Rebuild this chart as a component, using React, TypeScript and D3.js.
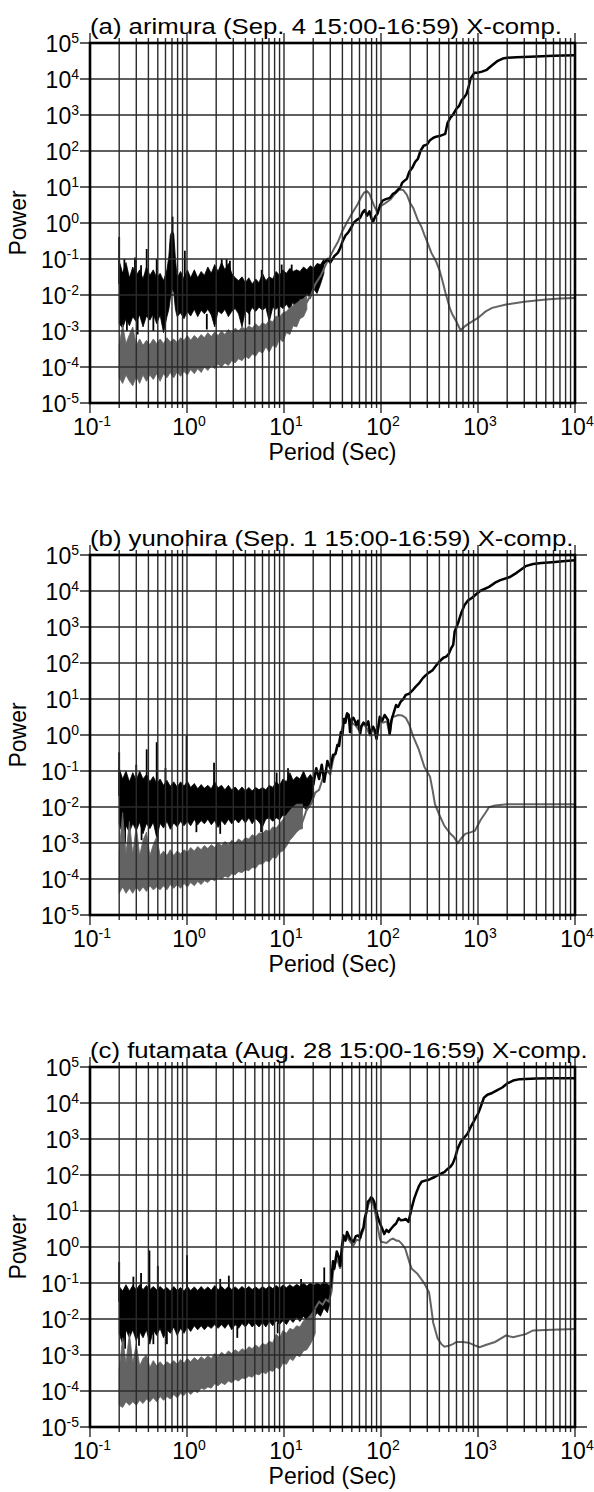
import React, { useRef, useEffect } from 'react'
import * as d3 from 'd3'

type Band = [number, number, number] // period, low, high
type Pt = [number, number] // period, power

// ---------- (a) arimura ----------
const aBlackBand: Band[] = [
    [0.2, 1.6e-3, 0.09], [0.217, 1.2e-3, 0.04], [0.235, 2.2e-3, 0.08], [0.255, 1.4e-3, 0.03],
    [0.276, 2.5e-3, 0.06], [0.3, 1.8e-3, 0.035], [0.325, 2.8e-3, 0.05], [0.352, 1.3e-3, 0.028],
    [0.382, 2.6e-3, 0.06], [0.414, 2e-3, 0.035], [0.449, 3e-3, 0.05], [0.487, 1.6e-3, 0.03],
    [0.528, 2.8e-3, 0.04], [0.573, 9e-4, 0.025], [0.621, 2.5e-3, 0.05], [0.65, 4e-3, 0.12],
    [0.673, 8e-3, 0.45], [0.7, 0.015, 0.6], [0.73, 0.012, 0.5], [0.76, 4e-3, 0.1],
    [0.792, 2.5e-3, 0.03], [0.858, 3.2e-3, 0.045], [0.931, 2.2e-3, 0.028], [1.01, 3.5e-3, 0.05],
    [1.09, 2.6e-3, 0.03], [1.19, 4e-3, 0.05], [1.29, 2.5e-3, 0.03], [1.4, 3.8e-3, 0.045],
    [1.51, 3e-3, 0.035], [1.64, 4e-3, 0.06], [1.78, 2.8e-3, 0.04], [1.93, 1.3e-3, 0.07],
    [2.09, 3.6e-3, 0.045], [2.27, 3e-3, 0.08], [2.46, 4e-3, 0.05], [2.67, 2.5e-3, 0.075],
    [2.89, 3.5e-3, 0.04], [3.14, 4.2e-3, 0.03], [3.4, 3e-3, 0.025], [3.69, 1.3e-3, 0.032],
    [4.0, 3.8e-3, 0.022], [4.34, 3e-3, 0.03], [4.7, 4.5e-3, 0.02], [5.1, 3.5e-3, 0.028],
    [5.53, 4.6e-3, 0.022], [6.0, 3.8e-3, 0.04], [6.5, 4.5e-3, 0.025], [7.05, 1.8e-3, 0.032],
    [7.65, 4.5e-3, 0.028], [8.3, 4e-3, 0.045], [9.0, 5e-3, 0.035], [9.75, 4.2e-3, 0.05],
    [10.6, 5.5e-3, 0.04], [11.5, 4e-3, 0.055], [12.4, 6.5e-3, 0.045], [13.5, 3e-3, 0.05],
    [14.6, 8e-3, 0.045], [15.9, 6e-3, 0.06], [17.2, 0.011, 0.05], [18.7, 8e-3, 0.065],
    [20.2, 0.015, 0.055], [21.9, 0.011, 0.075], [23.8, 0.02, 0.07], [25.8, 0.04, 0.1],
]
const aBlackSpikes: Band[] = [
    [0.2, 0.02, 0.41], [0.226, 0.02, 0.1], [0.291, 0.02, 0.11], [0.336, 0.02, 0.067],
    [0.384, 0.02, 0.19], [0.487, 0.02, 0.1], [0.71, 0.2, 1.5], [0.95, 0.02, 0.17],
    [2.28, 0.02, 0.1], [2.56, 0.02, 0.1], [2.77, 0.02, 0.09], [5.89, 0.02, 0.05],
    [9.46, 0.02, 0.07], [12, 0.02, 0.07], [0.24, 1e-3, 3e-3], [0.31, 8e-4, 3e-3],
    [0.45, 1e-3, 3e-3], [1.6, 1.1e-3, 3e-3], [4.4, 1.5e-3, 4e-3], [8.8, 2e-3, 5e-3],
]
const aBlackLine: Pt[] = [
    [25, 0.07], [28, 0.1], [30, 0.08], [33, 0.12], [36, 0.15], [38, 0.2], [40, 0.3], [43, 0.45],
    [46, 0.55], [50, 0.8], [52, 1.0], [56, 1.2], [61, 1.4], [65, 2.0], [68, 2.3], [72, 1.6],
    [76, 2.1], [80, 1.3], [83, 1.1], [87, 1.5], [92, 1.8], [98, 3.2], [104, 4.2], [112, 4.6],
    [124, 5.0], [133, 6.5], [140, 7], [150, 8.5], [158, 9.5], [165, 13], [175, 15], [185, 17],
    [195, 26], [210, 34], [225, 50], [240, 60], [255, 100], [275, 140], [298, 150], [320, 200],
    [344, 230], [370, 250], [400, 260], [432, 280], [460, 300], [485, 600], [520, 850],
    [550, 1000], [600, 1500], [640, 1800], [680, 2600], [715, 3000], [760, 3800], [800, 6000],
    [835, 1.0e4], [870, 1.2e4], [920, 1.5e4], [1000, 1.5e4], [1100, 1.6e4], [1230, 1.8e4],
    [1400, 2.4e4], [1600, 3.2e4], [1800, 3.7e4], [2000, 3.9e4], [2500, 4.0e4], [4000, 4.2e4],
    [6000, 4.4e4], [10000, 4.6e4],
]
const aGrayBand: Band[] = [
    [0.2, 5e-5, 4e-4], [0.217, 3.5e-5, 1.5e-3], [0.235, 6e-5, 4.5e-4], [0.255, 4e-5, 8e-4],
    [0.276, 3e-5, 1.3e-3], [0.3, 5.5e-5, 4e-4], [0.325, 3.5e-5, 6e-4], [0.352, 6e-5, 4e-4],
    [0.382, 4e-5, 5.5e-4], [0.414, 6e-5, 4.2e-4], [0.449, 4.5e-5, 6e-4], [0.487, 6.5e-5, 4.5e-4],
    [0.528, 4e-5, 6e-4], [0.573, 6.5e-5, 4.5e-4], [0.621, 5e-5, 6.5e-4], [0.673, 7e-5, 5e-4],
    [0.73, 5e-5, 6e-4], [0.792, 7.5e-5, 4.8e-4], [0.858, 5.5e-5, 6.5e-4], [0.931, 7.5e-5, 5.5e-4],
    [1.01, 6e-5, 7.5e-4], [1.09, 8.5e-5, 5.5e-4], [1.19, 6.5e-5, 7.5e-4], [1.29, 9e-5, 6e-4],
    [1.4, 7e-5, 8e-4], [1.51, 1e-4, 6.5e-4], [1.64, 8e-5, 9e-4], [1.78, 1.1e-4, 7e-4],
    [1.93, 9e-5, 9.5e-4], [2.09, 1.2e-4, 7.5e-4], [2.27, 1e-4, 1e-3], [2.46, 1.3e-4, 8e-4],
    [2.67, 1.1e-4, 1.1e-3], [2.89, 1.5e-4, 9e-4], [3.14, 1.3e-4, 1.2e-3], [3.4, 1.7e-4, 1e-3],
    [3.69, 1.5e-4, 1.3e-3], [4.0, 2e-4, 1.1e-3], [4.34, 1.7e-4, 1.4e-3], [4.7, 2.3e-4, 1.2e-3],
    [5.1, 2e-4, 1.6e-3], [5.53, 2.8e-4, 1.3e-3], [6.0, 2.4e-4, 1.7e-3], [6.5, 3.6e-4, 1.5e-3],
    [7.05, 2.6e-4, 2e-3], [7.65, 4e-4, 1.8e-3], [8.3, 3.5e-4, 2.6e-3], [9.0, 6e-4, 2.4e-3],
    [9.75, 5e-4, 3.2e-3], [10.6, 9e-4, 3.5e-3], [11.5, 8e-4, 4.5e-3], [12.4, 1.4e-3, 5e-3],
    [13.5, 1.3e-3, 6e-3], [14.6, 2.2e-3, 7e-3], [15.9, 2.5e-3, 8e-3], [17.2, 4e-3, 0.01],
]
const aGrayLine: Pt[] = [
    [17, 6e-3], [19, 0.01], [21, 0.02], [24, 0.035], [27, 0.07], [30, 0.12], [33, 0.2], [36, 0.3],
    [40, 0.6], [45, 1.1], [50, 1.8], [57, 3.2], [62, 5], [67, 7], [72, 7.6], [76, 6.5], [80, 4.5],
    [85, 3], [90, 2.2], [95, 2.5], [100, 3], [110, 3.5], [125, 4.5], [140, 6.5], [155, 8.5],
    [170, 8.2], [185, 6], [200, 3.5], [215, 2.6], [240, 1.2], [260, 0.8], [280, 0.47], [300, 0.3],
    [330, 0.15], [370, 0.085], [400, 0.05], [430, 0.025], [460, 0.012], [480, 8e-3], [510, 4.5e-3],
    [540, 3e-3], [600, 1.8e-3], [660, 1.05e-3], [720, 1.3e-3], [800, 1.6e-3], [1000, 2.3e-3],
    [1200, 3.5e-3], [1400, 4.4e-3], [2000, 5.5e-3], [3000, 6.5e-3], [5000, 7.5e-3],
    [7000, 8e-3], [10000, 8.3e-3],
]

// ---------- (b) yunohira ----------
const bBlackBand: Band[] = [
    [0.2, 3.4e-3, 0.12], [0.217, 1.8e-3, 0.06], [0.235, 3e-3, 0.1], [0.255, 2e-3, 0.05],
    [0.276, 3.5e-3, 0.09], [0.3, 2.2e-3, 0.055], [0.325, 3.8e-3, 0.1], [0.352, 1.8e-3, 0.06],
    [0.382, 3.5e-3, 0.08], [0.414, 2.5e-3, 0.05], [0.449, 3.8e-3, 0.07], [0.487, 1.4e-3, 0.045],
    [0.528, 3.5e-3, 0.06], [0.573, 2.6e-3, 0.04], [0.621, 4e-3, 0.055], [0.673, 2.4e-3, 0.038],
    [0.73, 3.6e-3, 0.05], [0.792, 2.8e-3, 0.036], [0.858, 4e-3, 0.05], [0.931, 3e-3, 0.038],
    [1.01, 4e-3, 0.052], [1.09, 3e-3, 0.035], [1.19, 4.5e-3, 0.045], [1.29, 3.2e-3, 0.032],
    [1.4, 4.2e-3, 0.042], [1.51, 3.4e-3, 0.033], [1.64, 4.6e-3, 0.04], [1.78, 3.2e-3, 0.032],
    [1.93, 4.2e-3, 0.05], [2.09, 2.7e-3, 0.034], [2.27, 4.2e-3, 0.04], [2.46, 3.2e-3, 0.03],
    [2.67, 4.6e-3, 0.04], [2.89, 3.4e-3, 0.03], [3.14, 4.6e-3, 0.036], [3.4, 3.6e-3, 0.028],
    [3.69, 4.8e-3, 0.036], [4.0, 3.6e-3, 0.028], [4.34, 5e-3, 0.035], [4.7, 3.4e-3, 0.028],
    [5.1, 4.8e-3, 0.035], [5.53, 3.8e-3, 0.03], [6.0, 2.8e-3, 0.035], [6.5, 4.6e-3, 0.03],
    [7.05, 5e-3, 0.04], [7.65, 4e-3, 0.035], [8.3, 5e-3, 0.05], [9.0, 4.4e-3, 0.04],
    [9.75, 6e-3, 0.06], [10.6, 5.5e-3, 0.05], [11.5, 7e-3, 0.09], [12.4, 6e-3, 0.055],
    [13.5, 9e-3, 0.07], [14.6, 7e-3, 0.06], [15.9, 0.01, 0.1], [17.2, 8e-3, 0.06],
    [18.7, 0.012, 0.08], [20.2, 0.02, 0.06],
]
const bBlackSpikes: Band[] = [
    [0.2, 0.02, 0.33], [0.3, 0.02, 0.15], [0.384, 0.02, 0.4], [0.487, 0.02, 0.63],
    [0.6, 0.02, 0.12], [0.99, 0.02, 0.96], [1.9, 0.02, 0.17], [8.4, 0.02, 0.09], [11, 0.02, 0.12],
    [0.23, 1e-3, 4e-3], [0.34, 1.2e-3, 4e-3], [0.5, 1e-3, 3e-3], [1.25, 2e-3, 4e-3],
    [2.2, 1.8e-3, 4e-3], [5.8, 2e-3, 4e-3],
]
const bBlackLine: Pt[] = [
    [20, 0.04], [21.5, 0.12], [23, 0.06], [24.5, 0.15], [26, 0.05], [28, 0.19], [30, 0.12],
    [32, 0.28], [34, 0.3], [35.5, 0.53], [37, 0.5], [38.5, 1.2], [40, 1.0], [41.5, 2.8],
    [43, 2.2], [44.7, 4], [46.5, 3.6], [48, 1.2], [50, 2.8], [52, 3], [56, 1.9], [58, 2.5],
    [61, 1.1], [63, 1.8], [66, 2.2], [71, 1.9], [74, 2.4], [77, 1.1], [80, 1.4], [83, 1.7],
    [87, 1.3], [90, 0.8], [94, 1.8], [97, 3.2], [103, 2.5], [109, 3.6], [118, 2.6], [123, 1.1],
    [128, 2.5], [133, 3.6], [143, 6.8], [150, 6], [160, 8.5], [170, 10], [180, 13], [195, 14],
    [210, 17], [228, 22], [246, 27], [270, 38], [290, 46], [315, 55], [340, 63], [370, 85],
    [400, 110], [440, 140], [470, 150], [500, 180], [530, 260], [555, 320], [575, 750],
    [620, 1250], [670, 2400], [725, 4000], [790, 5500], [870, 6500], [950, 8000], [1050, 1.0e4],
    [1300, 1.3e4], [1500, 1.7e4], [1700, 2e4], [2100, 2.4e4], [2500, 3.2e4], [3100, 4.9e4],
    [3700, 5.6e4], [4500, 6.0e4], [5800, 6.3e4], [8000, 6.8e4], [10000, 7.2e4],
]
const bGrayBand: Band[] = [
    [0.2, 4e-5, 6e-4], [0.217, 6e-5, 7e-3], [0.235, 4e-5, 5e-4], [0.255, 5.5e-5, 4e-3],
    [0.276, 4e-5, 5e-4], [0.3, 6e-5, 3e-3], [0.325, 4.5e-5, 4.5e-4], [0.352, 6e-5, 1.2e-3],
    [0.382, 4.5e-5, 2e-3], [0.414, 6.5e-5, 4.5e-4], [0.449, 5e-5, 9e-4], [0.487, 6e-5, 1.5e-3],
    [0.528, 5e-5, 4.5e-4], [0.573, 6.5e-5, 6e-4], [0.621, 5e-5, 4.5e-4], [0.673, 7e-5, 6.5e-4],
    [0.73, 5.5e-5, 4.5e-4], [0.792, 7e-5, 6e-4], [0.858, 5.5e-5, 5e-4], [0.931, 7.5e-5, 6.5e-4],
    [1.01, 6e-5, 5.5e-4], [1.09, 8e-5, 7.5e-4], [1.19, 6.5e-5, 6e-4], [1.29, 8.5e-5, 8e-4],
    [1.4, 7e-5, 6.5e-4], [1.51, 9e-5, 8.5e-4], [1.64, 8e-5, 7e-4], [1.78, 1e-4, 9e-4],
    [1.93, 9e-5, 7.5e-4], [2.09, 1.1e-4, 1e-3], [2.27, 1e-4, 8.5e-4], [2.46, 1.2e-4, 1.1e-3],
    [2.67, 1.1e-4, 9e-4], [2.89, 1.4e-4, 1.2e-3], [3.14, 1.3e-4, 1e-3], [3.4, 1.6e-4, 1.3e-3],
    [3.69, 1.5e-4, 1.1e-3], [4.0, 1.8e-4, 1.4e-3], [4.34, 1.7e-4, 1.3e-3], [4.7, 2.1e-4, 1.7e-3],
    [5.1, 2e-4, 1.5e-3], [5.53, 2.6e-4, 1.9e-3], [6.0, 2.6e-4, 1.8e-3], [6.5, 3.2e-4, 2.3e-3],
    [7.05, 3e-4, 2.1e-3], [7.65, 4e-4, 2.8e-3], [8.3, 3.8e-4, 2.6e-3], [9.0, 5.5e-4, 3.4e-3],
    [9.75, 6e-4, 4.5e-3], [10.6, 8e-4, 6e-3], [11.5, 1.2e-3, 8e-3], [12.4, 1.5e-3, 0.01],
    [13.5, 2e-3, 0.012], [14.6, 2.4e-3, 0.012], [15.5, 2.5e-3, 0.012],
]
const bGrayLine: Pt[] = [
    [15, 3e-3], [17, 8e-3], [19, 0.012], [21, 0.025], [23, 0.03], [25, 0.06], [28, 0.1],
    [30, 0.08], [32, 0.2], [35, 0.4], [38, 0.9], [41, 2.2], [44, 3.5], [47, 3], [50, 2.2],
    [55, 1.8], [60, 1.3], [65, 2], [70, 1.7], [77, 1.0], [83, 1.5], [90, 0.75], [97, 2.5],
    [105, 2.2], [115, 2.4], [123, 1.0], [130, 3.2], [140, 3.3], [150, 3.6], [165, 3.5],
    [180, 3.0], [195, 2.0], [215, 0.9], [245, 0.4], [280, 0.13], [320, 0.07], [340, 0.03],
    [360, 0.012], [400, 6e-3], [450, 3e-3], [520, 1.8e-3], [560, 1.5e-3], [620, 1e-3],
    [680, 1.4e-3], [740, 1.8e-3], [850, 2e-3], [930, 2.2e-3], [1060, 4.3e-3], [1200, 7e-3],
    [1300, 1e-2], [1500, 1.1e-2], [2000, 1.2e-2], [5000, 1.2e-2], [10000, 1.2e-2],
]

// ---------- (c) futamata ----------
const cBlackBand: Band[] = [
    [0.2, 4e-3, 0.08], [0.217, 2e-3, 0.06], [0.235, 5e-3, 0.09], [0.255, 3e-3, 0.06],
    [0.276, 5e-3, 0.085], [0.3, 2.5e-3, 0.065], [0.325, 4.5e-3, 0.09], [0.352, 3e-3, 0.065],
    [0.382, 5e-3, 0.085], [0.414, 2e-3, 0.065], [0.449, 5e-3, 0.08], [0.487, 3.5e-3, 0.065],
    [0.528, 5.5e-3, 0.08], [0.573, 3e-3, 0.065], [0.621, 5e-3, 0.075], [0.673, 4e-3, 0.06],
    [0.73, 6e-3, 0.08], [0.792, 3.5e-3, 0.062], [0.858, 5.5e-3, 0.075], [0.931, 4e-3, 0.06],
    [1.01, 6e-3, 0.08], [1.09, 4.5e-3, 0.062], [1.19, 6.5e-3, 0.078], [1.29, 5e-3, 0.062],
    [1.4, 6.5e-3, 0.08], [1.51, 5e-3, 0.064], [1.64, 6.5e-3, 0.078], [1.78, 5.5e-3, 0.063],
    [1.93, 7e-3, 0.085], [2.09, 5.5e-3, 0.065], [2.27, 7e-3, 0.08], [2.46, 5.5e-3, 0.065],
    [2.67, 7.5e-3, 0.08], [2.89, 5e-3, 0.066], [3.14, 7e-3, 0.078], [3.4, 5.5e-3, 0.065],
    [3.69, 7.5e-3, 0.08], [4.0, 6e-3, 0.066], [4.34, 8e-3, 0.08], [4.7, 6e-3, 0.066],
    [5.1, 7.5e-3, 0.078], [5.53, 6e-3, 0.066], [6.0, 8e-3, 0.08], [6.5, 6e-3, 0.068],
    [7.05, 8.5e-3, 0.082], [7.65, 6.5e-3, 0.07], [8.3, 9e-3, 0.085], [9.0, 7e-3, 0.072],
    [9.75, 9e-3, 0.088], [10.6, 7e-3, 0.074], [11.5, 0.01, 0.09], [12.4, 8e-3, 0.076],
    [13.5, 0.011, 0.092], [14.6, 8.5e-3, 0.08], [15.9, 0.012, 0.1], [17.2, 9e-3, 0.082],
    [18.7, 0.013, 0.1], [20.2, 0.01, 0.085], [21.9, 0.015, 0.1], [23.8, 0.012, 0.088],
    [25.8, 0.02, 0.11], [28, 0.015, 0.095], [30, 0.03, 0.08],
]
const cBlackSpikes: Band[] = [
    [0.2, 0.03, 0.38], [0.28, 0.03, 0.15], [0.336, 0.03, 0.19], [0.41, 0.03, 0.8],
    [0.5, 0.03, 0.3], [1.0, 0.03, 0.59], [2.2, 0.03, 0.13], [2.7, 0.03, 0.16],
    [15, 0.03, 0.13], [26, 0.03, 0.27], [0.23, 1.5e-3, 5e-3], [0.32, 1.8e-3, 5e-3],
    [0.45, 2e-3, 5e-3], [0.62, 2e-3, 5e-3], [3.3, 3e-3, 6e-3], [8.6, 4e-3, 8e-3],
]
const cBlackLine: Pt[] = [
    [30, 0.07], [31, 0.15], [32, 0.4], [33, 0.25], [35, 0.75], [37, 0.5], [38, 0.3], [39.5, 1.0],
    [41, 2.1], [43, 1.5], [44.7, 2.6], [48, 1.7], [52, 1.4], [55, 2.0], [58, 2.1], [61, 1.8],
    [63, 2.6], [66, 3.5], [68, 6.3], [71, 10], [73, 18], [76, 20], [79, 24], [82, 22], [85, 18],
    [88, 12], [92, 7.5], [96, 5], [100, 3.9], [104, 3], [108, 2.3], [114, 3], [120, 2.6],
    [127, 3.2], [135, 3.9], [143, 4.5], [152, 6.3], [160, 5.5], [170, 5.6], [180, 6], [192, 5],
    [200, 8], [207, 12], [220, 22], [233, 34], [247, 50], [262, 65], [285, 70], [306, 72],
    [330, 80], [358, 88], [390, 100], [418, 110], [450, 120], [489, 150], [520, 170], [550, 210],
    [580, 300], [617, 540], [660, 800], [700, 1000], [780, 1400], [843, 2200], [900, 3000],
    [950, 4000], [1000, 5000], [1050, 7000], [1100, 1.0e4], [1150, 1.4e4], [1250, 1.7e4],
    [1400, 1.9e4], [1550, 2.2e4], [1780, 2.7e4], [2000, 3.5e4], [2300, 4.2e4], [2700, 4.6e4],
    [4000, 4.8e4], [6000, 4.9e4], [10000, 4.9e4],
]
const cGrayBand: Band[] = [
    [0.2, 4e-5, 4e-4], [0.217, 3.5e-5, 3e-3], [0.235, 5e-5, 6e-4], [0.255, 4e-5, 4e-3],
    [0.276, 5e-5, 6e-4], [0.3, 4e-5, 2e-3], [0.325, 5.5e-5, 5e-4], [0.352, 4.5e-5, 8e-4],
    [0.382, 6e-5, 1e-3], [0.414, 5e-5, 4.5e-4], [0.449, 6.5e-5, 7e-4], [0.487, 5e-5, 5e-4],
    [0.528, 7e-5, 6.5e-4], [0.573, 5.5e-5, 5e-4], [0.621, 7e-5, 6.5e-4], [0.673, 6e-5, 5.5e-4],
    [0.73, 8e-5, 7e-4], [0.792, 6.5e-5, 5.5e-4], [0.858, 8.5e-5, 7.5e-4], [0.931, 7.5e-5, 6e-4],
    [1.01, 1e-4, 8e-4], [1.09, 8e-5, 6.5e-4], [1.19, 1e-4, 8.5e-4], [1.29, 9e-5, 7e-4],
    [1.4, 1.2e-4, 9e-4], [1.51, 1.1e-4, 7.5e-4], [1.64, 1.3e-4, 9.5e-4], [1.78, 1.2e-4, 8e-4],
    [1.93, 1.6e-4, 1.1e-3], [2.09, 1.4e-4, 9e-4], [2.27, 1.7e-4, 1.2e-3], [2.46, 1.5e-4, 1e-3],
    [2.67, 1.9e-4, 1.3e-3], [2.89, 1.7e-4, 1.1e-3], [3.14, 2.1e-4, 1.4e-3], [3.4, 1.9e-4, 1.2e-3],
    [3.69, 2.3e-4, 1.5e-3], [4.0, 2.2e-4, 1.3e-3], [4.34, 2.6e-4, 1.7e-3], [4.7, 2.4e-4, 1.5e-3],
    [5.1, 3e-4, 1.9e-3], [5.53, 2.8e-4, 1.6e-3], [6.0, 3.4e-4, 2.1e-3], [6.5, 3e-4, 1.9e-3],
    [7.05, 3.8e-4, 2.4e-3], [7.65, 3.5e-4, 2.2e-3], [8.3, 4.6e-4, 3.8e-3], [9.0, 4e-4, 3e-3],
    [9.75, 6e-4, 4.8e-3], [10.6, 5.5e-4, 4e-3], [11.5, 8e-4, 5.5e-3], [12.4, 7e-4, 5e-3],
    [13.5, 1e-3, 6.5e-3], [14.6, 9e-4, 6e-3], [15.9, 1.3e-3, 9e-3], [17.2, 1.4e-3, 0.01],
    [18.7, 2e-3, 0.013], [20.2, 3e-3, 0.017], [21, 4e-3, 0.02],
]
const cGrayLine: Pt[] = [
    [21, 0.02], [23, 0.03], [25, 0.025], [27, 0.035], [29, 0.03], [31, 0.06], [32, 0.2],
    [35, 0.5], [38, 0.25], [41, 1.5], [44, 2], [48, 1.4], [52, 1.1], [56, 1.6], [60, 1.5],
    [63, 2.2], [66, 3], [68, 5], [71, 9], [74, 15], [79, 20], [83, 16], [87, 9], [92, 4],
    [97, 1.8], [100, 1.4], [114, 1.3], [125, 1.6], [133, 1.7], [145, 1.5], [152, 1.5],
    [165, 1.2], [178, 0.9], [195, 0.4], [207, 0.25], [238, 0.18], [278, 0.1], [313, 0.055],
    [330, 0.02], [345, 8e-3], [383, 2.9e-3], [420, 2e-3], [450, 1.7e-3], [500, 1.8e-3],
    [550, 2e-3], [600, 2.3e-3], [700, 2.3e-3], [800, 2.2e-3], [950, 1.8e-3], [1040, 1.65e-3],
    [1200, 1.9e-3], [1500, 2.3e-3], [1950, 3.5e-3], [2300, 3.1e-3], [3100, 3.8e-3],
    [3700, 4.8e-3], [5800, 5e-3], [10000, 5.3e-3],
]

const titles = [
    '(a) arimura (Sep. 4 15:00-16:59) X-comp.',
    '(b) yunohira (Sep. 1 15:00-16:59) X-comp.',
    '(c) futamata (Aug. 28 15:00-16:59) X-comp.',
]
const xTicks = [0.1, 1, 10, 100, 1000, 10000]
const xTickExp = ['-1', '0', '1', '2', '3', '4']
const yTicks = [1e-5, 1e-4, 1e-3, 1e-2, 1e-1, 1, 10, 100, 1e3, 1e4, 1e5]
const yTickExp = ['-5', '-4', '-3', '-2', '-1', '0', '1', '2', '3', '4', '5']

const panels = [
    { title: titles[0], blackBand: aBlackBand, spikes: aBlackSpikes, blackLine: aBlackLine, grayBand: aGrayBand, grayLine: aGrayLine },
    { title: titles[1], blackBand: bBlackBand, spikes: bBlackSpikes, blackLine: bBlackLine, grayBand: bGrayBand, grayLine: bGrayLine },
    { title: titles[2], blackBand: cBlackBand, spikes: cBlackSpikes, blackLine: cBlackLine, grayBand: cGrayBand, grayLine: cGrayLine },
]

const width = 594
const height = 1492
const plotLeft = 90
const plotRight = 575
const plotH = 360
const panelTops = [43, 555, 1067]
const font = "'Liberation Sans', Arial, Helvetica, sans-serif"
const grayColor = '#636363'
const gridColor = '#2a2a2a'

const isMajor = (d: number) => Math.abs(Math.log10(d) - Math.round(Math.log10(d))) < 1e-6

const App: React.FC = () => {
    const svgRef = useRef<SVGSVGElement>(null)

    useEffect(() => {
        const svg = d3.select(svgRef.current)
        svg.selectAll('*').remove()
        svg.append('rect').attr('width', width).attr('height', height).attr('fill', '#fff')

        panels.forEach((p, i) => {
            const top = panelTops[i]
            const bottom = top + plotH
            const x = d3.scaleLog().domain([0.1, 1e4]).range([plotLeft, plotRight])
            const y = d3.scaleLog().domain([1e-5, 1e5]).range([bottom, top])
            const g = svg.append('g').attr('font-family', font)

            const clipId = `clip-${i}`
            g.append('clipPath')
                .attr('id', clipId)
                .append('rect')
                .attr('x', plotLeft)
                .attr('y', top)
                .attr('width', plotRight - plotLeft)
                .attr('height', plotH)

            const data = g.append('g').attr('clip-path', `url(#${clipId})`)
            const area = d3
                .area<Band>()
                .x((d) => x(d[0]))
                .y0((d) => y(d[1]))
                .y1((d) => y(d[2]))
            const line = d3
                .line<Pt>()
                .x((d) => x(d[0]))
                .y((d) => y(d[1]))

            // 黑色噪声带
            data.append('path')
                .attr('d', area(p.blackBand))
                .attr('fill', '#000')
                .attr('stroke', '#000')
                .attr('stroke-width', 0.8)
            data.selectAll('.spike')
                .data(p.spikes)
                .enter()
                .append('line')
                .attr('x1', (d) => x(d[0]))
                .attr('x2', (d) => x(d[0]))
                .attr('y1', (d) => y(d[1]))
                .attr('y2', (d) => y(d[2]))
                .attr('stroke', '#000')
                .attr('stroke-width', 1.8)
            // 灰色噪声带
            data.append('path')
                .attr('d', area(p.grayBand))
                .attr('fill', grayColor)
                .attr('stroke', grayColor)
                .attr('stroke-width', 0.8)
            data.append('path')
                .attr('d', line(p.grayLine))
                .attr('fill', 'none')
                .attr('stroke', grayColor)
                .attr('stroke-width', 2)
            data.append('path')
                .attr('d', line(p.blackLine))
                .attr('fill', 'none')
                .attr('stroke', '#000')
                .attr('stroke-width', 2.5)
                .attr('stroke-linejoin', 'round')

            // 网格线
            const minor = x.ticks()
            g.selectAll('.vgrid')
                .data(minor)
                .enter()
                .append('line')
                .attr('x1', (d) => x(d))
                .attr('x2', (d) => x(d))
                .attr('y1', (d) => top - (isMajor(d) ? 10 : 5))
                .attr('y2', (d) => bottom + (isMajor(d) ? 10 : 5))
                .attr('stroke', gridColor)
                .attr('stroke-width', 1.4)
            g.selectAll('.hgrid')
                .data(yTicks)
                .enter()
                .append('line')
                .attr('x1', plotLeft - 10)
                .attr('x2', plotRight + 12)
                .attr('y1', (d) => y(d))
                .attr('y2', (d) => y(d))
                .attr('stroke', gridColor)
                .attr('stroke-width', 1.4)

            // 外框
            g.append('rect')
                .attr('x', plotLeft)
                .attr('y', top)
                .attr('width', plotRight - plotLeft)
                .attr('height', plotH)
                .attr('fill', 'none')
                .attr('stroke', '#000')
                .attr('stroke-width', 2.6)

            // Y轴刻度标签
            yTicks.forEach((t, k) => {
                const txt = g.append('text')
                    .attr('x', plotLeft - 11)
                    .attr('y', y(t) + 9)
                    .attr('text-anchor', 'end')
                    .attr('font-size', 23)
                txt.append('tspan').text('10')
                txt.append('tspan').attr('dy', -9).attr('font-size', 14).text(yTickExp[k])
            })

            // X轴刻度标签
            xTicks.forEach((t, k) => {
                const txt = g.append('text')
                    .attr('x', x(t) + 2)
                    .attr('y', bottom + 32)
                    .attr('text-anchor', 'middle')
                    .attr('font-size', 23)
                txt.append('tspan').text('10')
                txt.append('tspan').attr('dy', -9).attr('font-size', 14).text(xTickExp[k])
            })

            g.append('text')
                .attr('x', (plotLeft + plotRight) / 2)
                .attr('y', bottom + 57)
                .attr('text-anchor', 'middle')
                .attr('font-size', 23)
                .text('Period (Sec)')

            g.append('text')
                .attr('transform', `translate(26,${(top + bottom) / 2}) rotate(-90)`)
                .attr('text-anchor', 'middle')
                .attr('font-size', 23)
                .text('Power')

            g.append('text')
                .attr('transform', `translate(${plotLeft},${top - 9}) scale(1.17,1)`)
                .attr('font-size', 22)
                .text(p.title)
        })
    }, [])

    return (
        <svg
            ref={svgRef}
            width={width}
            height={height}
            style={{ position: 'absolute', left: 0, top: 0, display: 'block' }}
        />
    )
}

export default App
